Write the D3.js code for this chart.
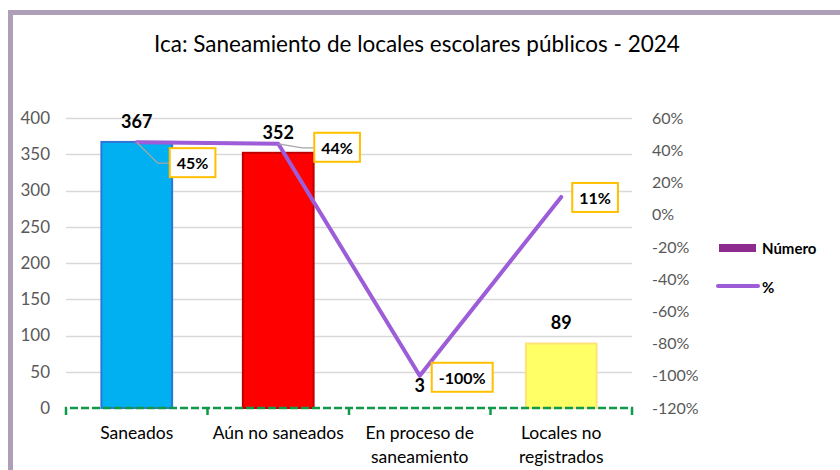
<!DOCTYPE html>
<html>
<head>
<meta charset="utf-8">
<script src="https://cdn.jsdelivr.net/npm/d3@7"></script>
<style>
  body { margin: 0; background: #fff; }
  text { font-family: Lato, "Open Sans", sans-serif; }
</style>
</head>
<body>
<svg id="chart" width="840" height="470"></svg>
<script>
var categories = [["Saneados"], ["Aún no saneados"], ["En proceso de", "saneamiento"], ["Locales no", "registrados"]];
var numbers = [367, 352, 3, 89];
var percents = [45, 44, -100, 11];
var leftTicks = [0, 50, 100, 150, 200, 250, 300, 350, 400];
var rightTicks = [-120, -100, -80, -60, -40, -20, 0, 20, 40, 60];
var barColors = ["#00b0f0", "#ff0000", "#ffffff", "#ffff66"];
var barStrokes = ["#2e75d6", "#c00000", "none", "#ffe27a"];

var margin = {top: 118, right: 208, bottom: 62, left: 66};
var width = 840 - margin.left - margin.right;
var height = 470 - margin.top - margin.bottom;

var svg = d3.select("#chart");

// frame
svg.append("path")
    .attr("d", "M10.5,470 L10.5,12.5 L840,12.5")
    .attr("fill", "none")
    .attr("stroke", "#ae9fb8")
    .attr("stroke-width", 5);

svg.append("text")
    .attr("x", 417)
    .attr("y", 52)
    .attr("text-anchor", "middle")
    .style("font-size", "22.5px")
    .style("fill", "#000")
    .text("Ica: Saneamiento de locales escolares públicos - 2024");

var g = svg.append("g")
    .attr("transform", "translate(" + margin.left + "," + margin.top + ")");

var x = d3.scaleBand()
    .domain(d3.range(categories.length))
    .range([0, width])
    .paddingInner(0.5)
    .paddingOuter(0.25);
var xc = function(i) { return x(i) + x.bandwidth() / 2; };

var yl = d3.scaleLinear().domain([0, 400]).range([height, 0]);
var yr = d3.scaleLinear().domain([-120, 60]).range([height, 0]);

// grid
g.selectAll(".grid")
    .data(leftTicks.slice(1))
  .enter().append("line")
    .attr("x1", 0)
    .attr("x2", width)
    .attr("y1", function(d) { return Math.round(yl(d)) + 0.5; })
    .attr("y2", function(d) { return Math.round(yl(d)) + 0.5; })
    .attr("stroke", "#d9d9d9")
    .attr("stroke-width", 1.3);

// left axis
var leftAxis = g.append("g")
    .call(d3.axisLeft(yl).tickValues(leftTicks).tickSize(0).tickPadding(16));
leftAxis.select(".domain").remove();
leftAxis.selectAll("text")
    .style("font-size", "17px")
    .style("fill", "#595959")
    .style("font-family", "Lato, sans-serif");

// right axis
var rightAxis = g.append("g")
    .attr("transform", "translate(" + width + ",0)")
    .call(d3.axisRight(yr).tickValues(rightTicks).tickSize(0).tickPadding(20)
      .tickFormat(function(d) { return d + "%"; }));
rightAxis.select(".domain").remove();
rightAxis.selectAll("text")
    .style("font-size", "16px")
    .style("fill", "#595959")
    .style("font-family", "Lato, sans-serif");

// bars
g.selectAll(".bar")
    .data(numbers)
  .enter().append("rect")
    .attr("x", function(d, i) { return x(i); })
    .attr("y", function(d) { return yl(d); })
    .attr("width", x.bandwidth())
    .attr("height", function(d) { return height - yl(d); })
    .attr("fill", function(d, i) { return barColors[i]; })
    .attr("stroke", function(d, i) { return barStrokes[i]; })
    .attr("stroke-width", 2);

// bar value labels
g.selectAll(".num")
    .data(numbers)
  .enter().append("text")
    .attr("x", function(d, i) { return xc(i); })
    .attr("y", function(d) { return yl(d) - 14; })
    .attr("text-anchor", "middle")
    .style("font-size", "18px")
    .style("font-weight", "bold")
    .style("fill", "#000")
    .text(function(d) { return d; });

// x axis: dashed green with boundary ticks
var step = width / categories.length;
var axisPath = "M0," + (height + 7) + "V" + height + "H" + width + "V" + (height + 7);
d3.range(1, categories.length).forEach(function(i) {
  axisPath += "M" + (i * step) + "," + height + "V" + (height + 7);
});
g.append("path")
    .attr("d", axisPath)
    .attr("fill", "none")
    .attr("stroke", "#0e9a48")
    .attr("stroke-width", 2.5)
    .attr("stroke-dasharray", "8,3");

// category labels
var cat = g.selectAll(".cat")
    .data(categories)
  .enter().append("text")
    .attr("x", function(d, i) { return xc(i); })
    .attr("y", height + 31)
    .attr("text-anchor", "middle")
    .style("font-size", "17.5px")
    .style("fill", "#000");
cat.selectAll("tspan")
    .data(function(d) { return d; })
  .enter().append("tspan")
    .attr("x", function() { return d3.select(this.parentNode).attr("x"); })
    .attr("dy", function(d, i) { return i ? 24 : 0; })
    .text(function(d) { return d; });

// percent line
var line = d3.line()
    .x(function(d, i) { return xc(i); })
    .y(function(d) { return yr(d); });
g.append("path")
    .datum(percents)
    .attr("d", line)
    .attr("fill", "none")
    .attr("stroke", "#9d5cd8")
    .attr("stroke-width", 4)
    .attr("stroke-linecap", "round")
    .attr("stroke-linejoin", "round");

// percent labels in boxes
var boxOffsets = [[33, 6], [36, -11], [12, -13], [11, -14]];
var leaders = [true, true, false, false];
percents.forEach(function(p, i) {
  var px = xc(i), py = yr(p);
  var bx = px + boxOffsets[i][0], by = py + boxOffsets[i][1];
  var label = g.append("g");
  var t = label.append("text")
      .attr("x", bx + 7)
      .attr("y", by + 21)
      .style("font-size", "16px")
      .style("font-weight", "bold")
      .style("fill", "#000")
      .text(p + "%");
  var w = t.node().getComputedTextLength() + 14;
  if (leaders[i]) {
    var ly = by + 15;
    label.insert("path", "text")
        .attr("d", "M" + px + "," + py + "L" + (bx - 12) + "," + ly + "H" + bx)
        .attr("fill", "none")
        .attr("stroke", "#a6a6a6")
        .attr("stroke-width", 1.3);
  }
  label.insert("rect", "text")
      .attr("x", bx)
      .attr("y", by)
      .attr("width", w)
      .attr("height", 29)
      .attr("fill", "#fff")
      .attr("stroke", "#ffc000")
      .attr("stroke-width", 2);
});

// legend
var legend = svg.append("g");
legend.append("rect")
    .attr("x", 719).attr("y", 244)
    .attr("width", 37).attr("height", 8)
    .attr("fill", "#8e2b8e");
legend.append("text")
    .attr("x", 762).attr("y", 254)
    .style("font-size", "15px")
    .style("font-weight", "bold")
    .text("Número");
legend.append("line")
    .attr("x1", 718).attr("x2", 758)
    .attr("y1", 286).attr("y2", 286)
    .attr("stroke", "#9d5cd8")
    .attr("stroke-width", 4)
    .attr("stroke-linecap", "round");
legend.append("text")
    .attr("x", 762).attr("y", 293)
    .style("font-size", "15px")
    .style("font-weight", "bold")
    .text("%");
</script>
</body>
</html>
